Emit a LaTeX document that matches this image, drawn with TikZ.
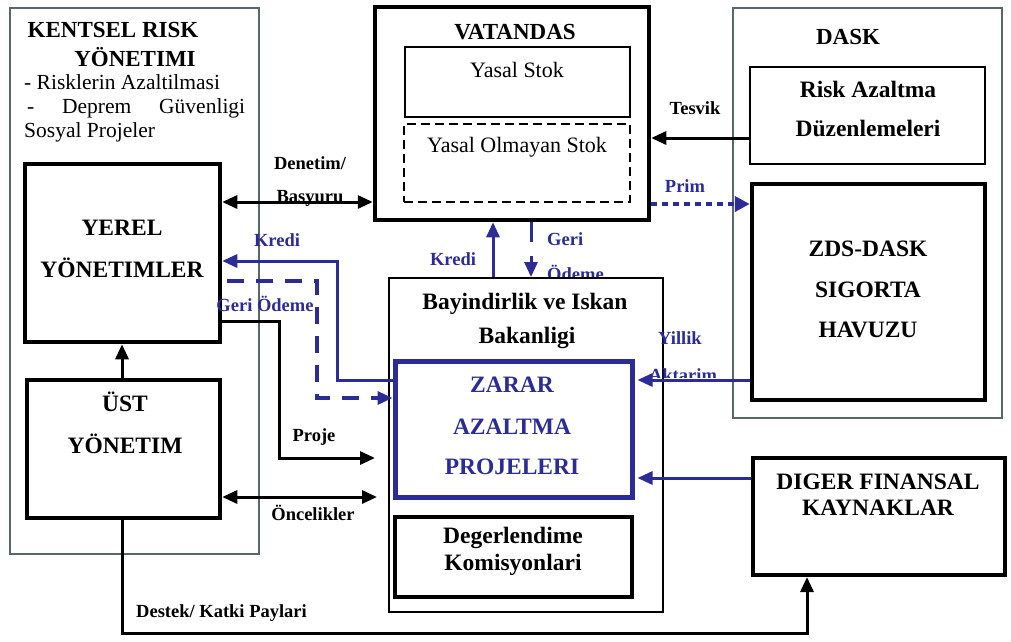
\documentclass[tikz,border=0pt]{standalone}
\usepackage{fontspec}
\setmainfont{Liberation Serif}
\usetikzlibrary{arrows.meta}
\definecolor{bl}{RGB}{44,44,150}
\definecolor{gr}{RGB}{88,104,104}
\begin{document}
\begin{tikzpicture}[x=1pt,y=-1pt,
  box/.style={draw, inner sep=0pt, line width=#1},
  hd/.style={inner sep=0pt, font=\fontsize{23}{24}\selectfont\bfseries},
  rg/.style={inner sep=0pt, font=\fontsize{21.5}{23}\selectfont},
  big/.style={inner sep=0pt, font=\fontsize{23.5}{25}\selectfont\bfseries},
  lab/.style={inner sep=0pt, font=\fontsize{18.5}{20}\selectfont\bfseries},
  blab/.style={lab, text=bl},
  tip/.style={-{Triangle[length=15pt,width=13pt]}},
  con/.style={line width=3pt, tip},
  dcon/.style={line width=3pt, {Triangle[length=15pt,width=13pt]}-{Triangle[length=15pt,width=13pt]}},
  bcon/.style={draw=bl, line width=3pt, tip},
]
\useasboundingbox (0,0) rectangle (1011,641);
\fill[white] (0,0) rectangle (1011,641);

% container boxes
\node[box=2pt, draw=gr, minimum width=249, minimum height=546] (kentsel) at (134.5,281) {};
\node[box=2pt, draw=gr, minimum width=269, minimum height=410] (dask) at (867.5,213) {};

% texts of KENTSEL RISK YONETIMI
\node[hd] (kt1) at (113,30) {KENTSEL RISK};
\node[hd] (kt2) at (135,57) {YÖNETIMI};
\node[rg, anchor=west] (kt3) at (24,82) {- Risklerin Azaltilmasi};
\node[rg, anchor=west] (kt4) at (25,108) {\makebox[220pt]{\hspace*{2pt}-\hfill Deprem\hfill Güvenligi}};
\node[rg, anchor=west] (kt5) at (24,132) {Sosyal Projeler};
\node[hd] (dasklab) at (848,37) {DASK};

% label partly covered by the ministry box
\node[blab, anchor=west] (lgeri2) at (547,239) {Geri};
\node[blab, anchor=west] (lodeme2) at (547,273) {Ödeme};

% boxes
\node[box=4.5pt, minimum width=274, minimum height=213] (vat) at (512,113.5) {};
\node[box=1.5pt, minimum width=225, minimum height=70] (yasal) at (517.5,82) {};
\node[box=1.5pt, dashed, dash pattern=on 9pt off 5pt, minimum width=226, minimum height=78] (yolm) at (517,163) {};
\node[box=4.5pt, minimum width=195, minimum height=178] (yerel) at (122.5,253) {};
\node[box=4.5pt, minimum width=193, minimum height=138] (ust) at (123.5,449) {};
\node[box=2.5pt, minimum width=235, minimum height=97] (risk) at (867.5,115.5) {};
\node[box=4.5pt, minimum width=233, minimum height=216] (zds) at (868.5,292) {};
\node[box=2pt, fill=white, minimum width=274, minimum height=334] (bay) at (526,445) {};
\node[box=5pt, draw=bl, minimum width=237, minimum height=136] (zarar) at (513.5,429) {};
\node[box=4pt, minimum width=237, minimum height=80] (deg) at (513.5,557) {};
\node[box=4pt, minimum width=252, minimum height=117] (diger) at (879,516.5) {};

% box texts
\node[hd] (vt) at (515,32) {VATANDAS};
\node[rg, font=\fontsize{22}{24}\selectfont] (yst) at (517,70) {Yasal Stok};
\node[rg, font=\fontsize{22}{24}\selectfont] (yost) at (517,147) {Yasal Olmayan Stok};
\node[big] (yt1) at (122,228) {YEREL};
\node[big] (yt2) at (122,268) {YÖNETIMLER};
\node[big] (ut1) at (125,402) {ÜST};
\node[big] (ut2) at (125,444) {YÖNETIM};
\node[big] (rt1) at (868,89) {Risk Azaltma};
\node[big] (rt2) at (868,128) {Düzenlemeleri};
\node[big] (zt1) at (868,249) {ZDS-DASK};
\node[big] (zt2) at (868,290) {SIGORTA};
\node[big] (zt3) at (868,330) {HAVUZU};
\node[big] (bt1) at (525,304) {Bayindirlik ve Iskan};
\node[big] (bt2) at (527,338) {Bakanligi};
\node[big, text=bl] (pt1) at (512,385) {ZARAR};
\node[big, text=bl] (pt2) at (512,427) {AZALTMA};
\node[big, text=bl] (pt3) at (512,467) {PROJELERI};
\node[big] (dt1) at (513,538) {Degerlendime};
\node[big] (dt2) at (513,565) {Komisyonlari};
\node[big] (gt1) at (878,482) {DIGER FINANSAL};
\node[big] (gt2) at (878,508) {KAYNAKLAR};

% connector labels
\node[lab] (ldenetim) at (310,163) {Denetim/};
\node[lab] (lbasvuru) at (310,198) {Basyuru};
\node[lab] (lproje) at (314,437) {Proje};
\node[lab] (loncelik) at (313,513) {Öncelikler};
\node[lab, anchor=west] (ldestek) at (136,613) {Destek/ Katki Paylari};
\node[lab] (ltesvik) at (695,108) {Tesvik};
\node[blab] (lprim) at (685,186) {Prim};
\node[blab] (lkredi1) at (277,240) {Kredi};
\node[blab] (lgeri1) at (265,304) {Geri Ödeme};
\node[blab] (lkredi2) at (453,259) {Kredi};
\node[blab] (lyillik) at (680,338) {Yillik};
\begin{scope}
\clip (600,355) rectangle (760,377);
\node[blab] (laktarim) at (683,375) {Aktarim};
\end{scope}

% black connectors
\draw[dcon] (yerel.east |- 0,202) -- (vat.west |- 0,202);
\draw[con] (122,0 |- ust.north) -- (122,0 |- yerel.south);
\draw[con, shorten >=13pt] (yerel.east |- 0,321) -| (279,458) -- (bay.west |- 0,458);
\draw[dcon, shorten >=11pt] (ust.east |- 0,497) -- (bay.west |- 0,497);
\draw[con] (122,0 |- ust.south) -- (122,633) -- (807,633) -- (807,0 |- diger.south);
\draw[con] (risk.west |- 0,138) -- (vat.east |- 0,138);

% blue connectors
\draw[bcon, line width=4.5pt, dash pattern=on 6pt off 5pt, -{Triangle[length=15pt,width=15pt]}]
  (vat.east |- 0,204) -- (zds.west |- 0,204);
\draw[bcon] (493,0 |- bay.north) -- (493,0 |- vat.south);
\draw[bcon, dash pattern=on 20pt off 14pt] (531,0 |- vat.south) -- (531,0 |- bay.north);
\draw[bcon] (zarar.west |- 0,380) -- (337,380) -- (337,261) -- (yerel.east |- 0,261);
\draw[bcon, line width=3.5pt, dash pattern=on 17pt off 12pt, shorten <=5pt]
  (yerel.east |- 0,281) -- (317,281) -- (317,398) -- (zarar.west |- 0,398);
\draw[bcon, shorten >=3pt] (zds.west |- 0,380) -- (zarar.east |- 0,380);
\draw[bcon, shorten >=3pt] (diger.west |- 0,478) -- (zarar.east |- 0,478);
\end{tikzpicture}
\end{document}
